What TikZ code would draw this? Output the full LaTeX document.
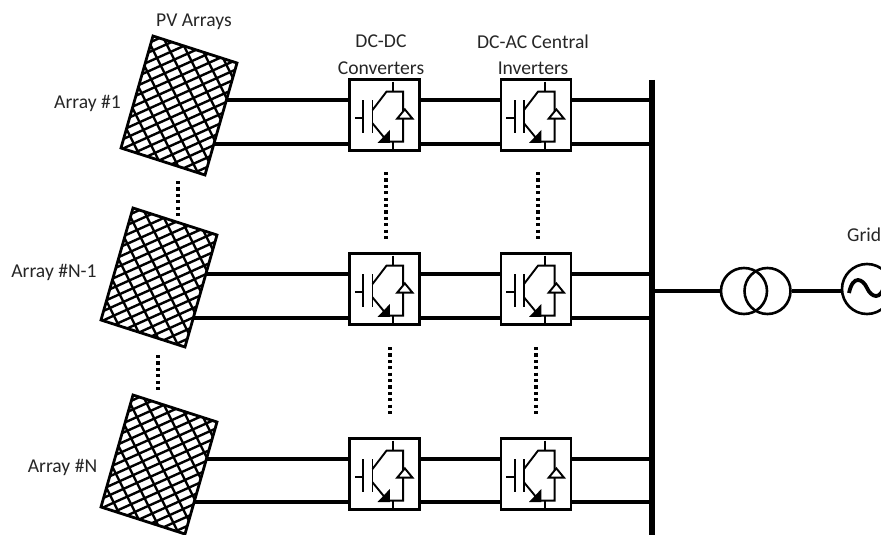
\documentclass[tikz,border=0pt]{standalone}
\usepackage{fontspec}
\setmainfont{Carlito}
\tikzset{
  x=1pt,y=-1pt,
  wire/.style={line width=3.6pt},
  conv/.style={draw,line width=2.6pt,minimum width=70pt,minimum height=71pt,inner sep=0pt,fill=white},
  lbl/.style={font=\fontsize{19.6}{22}\selectfont,text=black!85,inner sep=0pt,align=center},
  dots/.style={line width=3.6pt,dash pattern=on 3.2pt off 3.2pt},
  sym/.style={line width=1.9pt},
  ring/.style={draw,line width=2.6pt,circle,inner sep=0pt,minimum size=46pt},
  igbt/.pic={
    \begin{scope}[sym,x=0.3333pt,y=-0.3333pt,shift={(-134,-135)}]
      \draw (45,145) -- (70,145);
      \draw (70,90) -- (70,190);
      \draw (98,90) -- (98,190);
      \draw (98,120) -- (140,65) -- (190,65) -- (190,215) -- (135,215);
      \draw (160,35) -- (160,65);
      \draw (160,215) -- (160,245);
      \draw (98,160) -- (135,205);
      \fill (113,219) -- (150,180) -- (150,219) -- cycle;
      \draw[fill=white] (172,146) -- (218,146) -- (195,118) -- cycle;
    \end{scope}
  }
}
\newcommand{\pvpanel}[2]{%
  \begin{scope}[shift={(#1,#2)}]
    \begin{scope}
      \clip (0,0) -- (84,27) -- (52,139) -- (-32,112) -- cycle;
      \foreach \k in {-14,...,14}
        \draw[line width=2.4pt] (-60+\k*16.5,-40) -- ++(125,250);
      \foreach \k in {-4,...,30}
        \draw[line width=2.4pt] (-60,-15+\k*9.4) -- ++(200,-90);
    \end{scope}
    \draw[line width=2.8pt,line join=miter] (0,0) -- (84,27) -- (52,139) -- (-32,112) -- cycle;
  \end{scope}}
\begin{document}
\begin{tikzpicture}
\clip (0,0) rectangle (881,535);
\pvpanel{153}{36}
\pvpanel{133}{208}
\pvpanel{133}{395}
% panel terminals
\coordinate (p1a) at (226,100);
\coordinate (p1b) at (214,144);
\coordinate (p2a) at (206,274);
\coordinate (p2b) at (194,318);
\coordinate (p3a) at (206,459);
\coordinate (p3b) at (194,502);
% bus
\coordinate (bust) at (652,80);
\coordinate (busb) at (652,535);
\draw[line width=6pt] (bust) -- (busb);
% converters
\node[conv] (c1) at (384.5,115) {};
\node[conv] (i1) at (536,115) {};
\node[conv] (c2) at (384.5,289) {};
\node[conv] (i2) at (536,289) {};
\node[conv] (c3) at (384.5,474) {};
\node[conv] (i3) at (536,474) {};
\foreach \n in {c1,i1,c2,i2,c3,i3}
  \pic at (\n.center) {igbt};
% wires
\foreach \r in {1,2,3}{
  \draw[wire] (p\r a) -- (p\r a -| c\r.west);
  \draw[wire] (c\r.east |- p\r a) -- (i\r.west |- p\r a);
  \draw[wire] (i\r.east |- p\r a) -- (bust |- p\r a);
  \draw[wire] (p\r b) -- (p\r b -| c\r.west);
  \draw[wire] (c\r.east |- p\r b) -- (i\r.west |- p\r b);
  \draw[wire] (i\r.east |- p\r b) -- (bust |- p\r b);
}
% dots
\coordinate (d1) at (178,181); \coordinate (d1e) at (178,219);
\coordinate (d2) at (158,355); \coordinate (d2e) at (158,393);
\draw[dots] (d1) -- (d1e);
\draw[dots] (d2) -- (d2e);
\draw[dots] (386,172) -- (386,242);
\draw[dots] (538,172) -- (538,242);
\draw[dots] (390,347) -- (390,416);
\draw[dots] (536,347) -- (536,416);
% transformer and grid
\node[ring] (t1) at (744,291) {};
\node[ring] (t2) at (767.5,291) {};
\node[ring,minimum size=50pt] (g) at (867,289) {};
\coordinate (busm) at (652,291);
\draw[wire] (busm) -- (t1.west);
\draw[wire] (t2.east) -- (g.west |- t2.east);
\draw[line width=3.8pt] (849,293) .. controls (853,274) and (863,279) .. (867,288) .. controls (871,297) and (881,302) .. (885,283);
% labels
\node[lbl] at (194,22) {PV Arrays};
\node[lbl] at (87.5,103) {Array \#1};
\node[lbl] at (54,272) {Array \#N-1};
\node[lbl] at (62.5,467) {Array \#N};
\node[lbl] at (381,41) {DC-DC};
\node[lbl] at (381,68) {Converters};
\node[lbl] at (533,42) {DC-AC Central};
\node[lbl] at (533,68) {Inverters};
\node[lbl,anchor=west] at (847,235) {Grid};
\end{tikzpicture}
\end{document}
